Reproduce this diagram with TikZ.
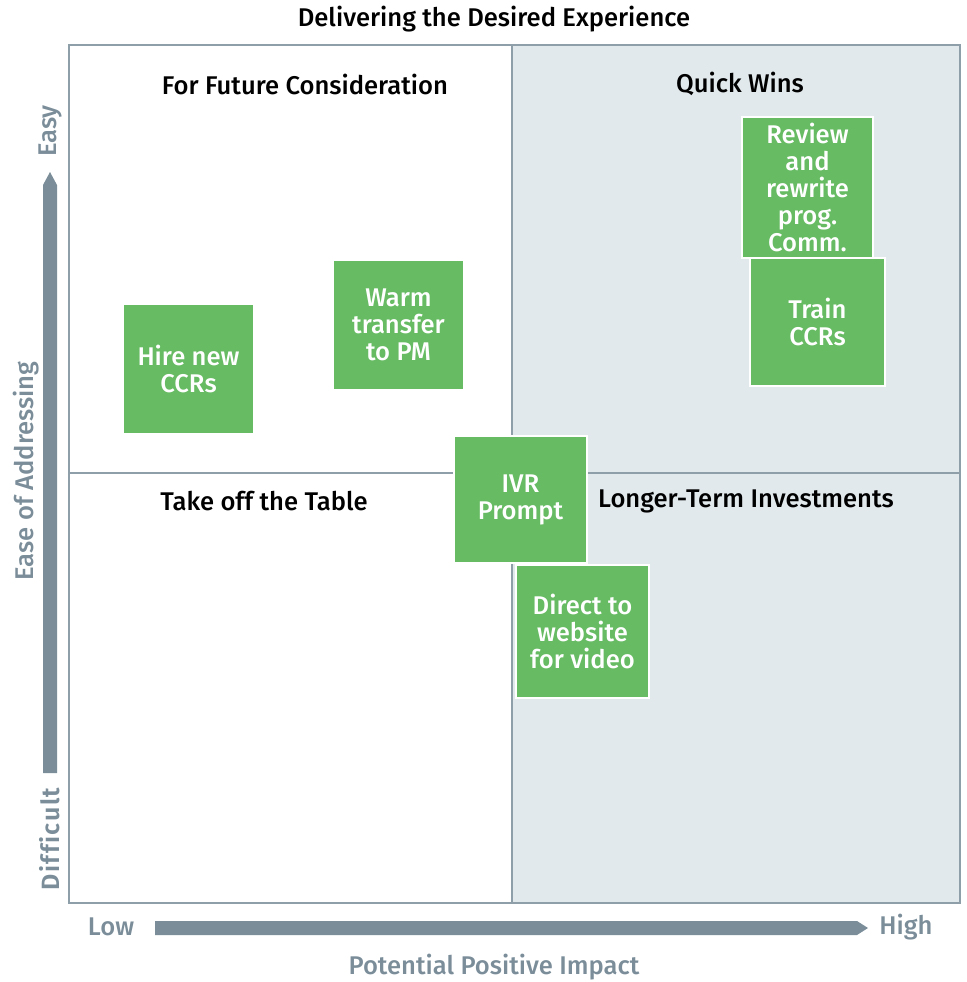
\documentclass[tikz,border=0pt]{standalone}
\usepackage{fontspec}
\setmainfont{Fira Sans}[UprightFont=* Medium,BoldFont=* SemiBold]
\usetikzlibrary{positioning}

\definecolor{axisgray}{HTML}{7A8D99}
\definecolor{framegray}{HTML}{8E9FA9}
\definecolor{panelgray}{HTML}{E2E9EC}
\definecolor{cardgreen}{HTML}{66BB63}

\tikzset{
  card/.style={fill=cardgreen,draw=white,line width=1pt,text=white,align=center,
    font=\fontsize{12.8}{13.5}\selectfont,minimum width=65.5pt,minimum height=65pt,inner sep=0pt},
  quadtitle/.style={font=\fontsize{12.8}{14}\selectfont,text=black},
  axislabel/.style={font=\fontsize{12.8}{14}\selectfont,text=axisgray},
}

\begin{document}
\begin{tikzpicture}[x=0.5pt,y=-0.5pt]
	\useasboundingbox (0,0) rectangle (967,982);

	%% Frame corners of the matrix
	\coordinate (F1) at (69,45);  % top left
	\coordinate (F2) at (960,45); % top right
	\coordinate (F3) at (960,903); % bottom right
	\coordinate (F4) at (69,903); % bottom left

	%% Middle of the sides, where the dividers meet the frame
	\coordinate (M1) at (512,45);
	\coordinate (M2) at (512,903);
	\coordinate (M3) at (69,473);
	\coordinate (M4) at (960,473);

	%% Right half is shaded
	\fill[panelgray] (M1) rectangle (F3);

	%% 線を描く
	\draw[framegray,line width=0.7pt] (F1) -- (F2) -- (F3) -- (F4) -- cycle;
	\draw[framegray,line width=0.7pt] (M1) -- (M2);
	\draw[framegray,line width=0.7pt] (M3) -- (M4);

	%% Titles
	\node[quadtitle] (title) at (494,19) {Delivering the Desired Experience};
	\node[quadtitle] (future) at (305,84) {For Future Consideration};
	\node[quadtitle] (quick) at (740,84) {Quick Wins};
	\node[quadtitle] (table) at (264,501) {Take off the Table};
	\node[quadtitle] (longer) at (746,501) {Longer-Term Investments};

	%% Cards
	\node[card] (hire) at (188.5,369) {Hire new\\CCRs};
	\node[card] (warm) at (398.5,325) {Warm\\transfer\\to PM};
	\node[card,minimum width=66.5pt,minimum height=63.5pt] (ivr) at (520.5,499.5) {IVR\\Prompt};
	\node[card,minimum width=66.5pt,minimum height=66.5pt] (direct) at (582.5,631.5) {Direct to\\website\\for video};
	\node[card,minimum height=70.5pt] (review) at (807.5,187.5) {Review\\and\\rewrite\\prog.\\Comm.};
	\node[card,minimum width=67.5pt,minimum height=64pt] (train) at (817.5,322) {Train\\CCRs};

	%% Vertical axis: Ease of Addressing
	\coordinate (V1) at (43,773);
	\coordinate (V2) at (57,773);
	\coordinate (V3) at (57,185);
	\coordinate (V4) at (50,172); % tip
	\coordinate (V5) at (43,185);
	\fill[axisgray] (V1) -- (V2) -- (V3) -- (V4) -- (V5) -- cycle;
	\node[axislabel,rotate=90] (easy) at (50,131) {Easy};
	\node[axislabel,rotate=90,font=\fontsize{12.5}{14}\bfseries\addfontfeatures{Ligatures=CommonOff,LetterSpace=6}] (difficult) at (50,839) {Difficult};
	\node[axislabel,rotate=90] (ease) at (26,471) {Ease of Addressing};

	%% Horizontal axis: Potential Positive Impact
	\coordinate (H1) at (155,921);
	\coordinate (H2) at (857,921);
	\coordinate (H3) at (868,928); % tip
	\coordinate (H4) at (857,935);
	\coordinate (H5) at (155,935);
	\fill[axisgray] (H1) -- (H2) -- (H3) -- (H4) -- (H5) -- cycle;
	\node[axislabel] (low) at (111,927) {Low};
	\node[axislabel] (high) at (906,927) {High};
	\node[axislabel] (impact) at (494,967) {Potential Positive Impact};
\end{tikzpicture}
\end{document}
